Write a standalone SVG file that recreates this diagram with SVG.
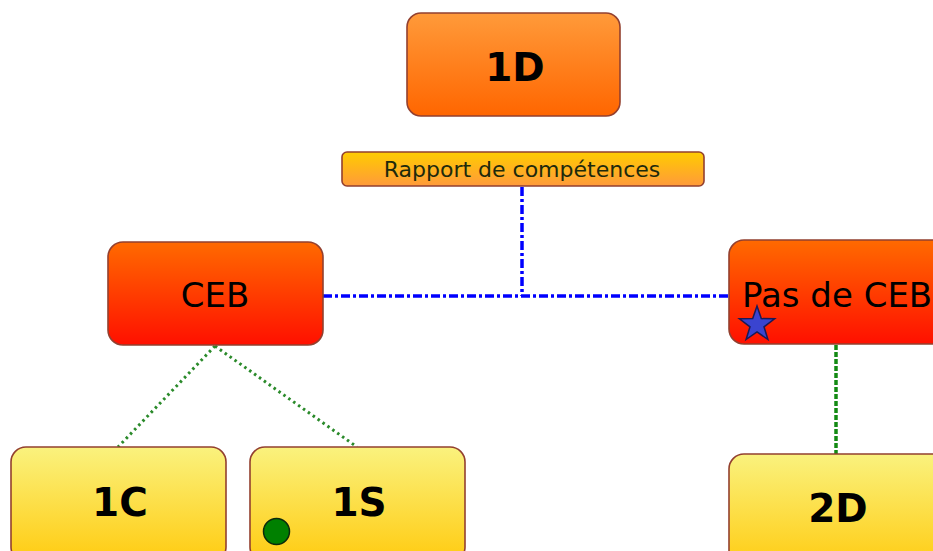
<svg xmlns="http://www.w3.org/2000/svg" width="933" height="551" viewBox="0 0 933 551">
  <defs>
    <linearGradient id="gOrange" x1="0" y1="0" x2="0" y2="1">
      <stop offset="0" stop-color="#FF9A3A"/>
      <stop offset="1" stop-color="#FF6600"/>
    </linearGradient>
    <linearGradient id="gRed" x1="0" y1="0" x2="0" y2="1">
      <stop offset="0" stop-color="#FF6A00"/>
      <stop offset="1" stop-color="#FF1000"/>
    </linearGradient>
    <linearGradient id="gYellow" x1="0" y1="0" x2="0" y2="1">
      <stop offset="0" stop-color="#FAF27E"/>
      <stop offset="1" stop-color="#FFCB10"/>
    </linearGradient>
    <linearGradient id="gLabel" x1="0" y1="0" x2="0" y2="1">
      <stop offset="0" stop-color="#FFCC00"/>
      <stop offset="1" stop-color="#FF9A3A"/>
    </linearGradient>
  </defs>
  <style>
    .box { stroke: #93402F; stroke-width: 1.6; }
    .big { font-family: "DejaVu Sans", Verdana, sans-serif; font-weight: bold; font-size: 39px; fill: #000; text-anchor: middle; }
    .mid { font-family: "DejaVu Sans", Tahoma, sans-serif; font-size: 34px; fill: #000; }
    .lbl { font-family: "DejaVu Sans", Tahoma, sans-serif; font-size: 22px; fill: #1E2A0C; text-anchor: middle; }
    .blue { fill: none; stroke: #0000FF; stroke-width: 3.5; stroke-dasharray: 9 3 3 3; }
    .dots { fill: none; stroke: #2A8A2A; stroke-width: 3; stroke-dasharray: 2.5 3.5; }
    .dash { fill: none; stroke: #138A13; stroke-width: 3.5; stroke-dasharray: 5 2; }
  </style>

  <!-- connectors -->
  <g id="connectors">
    <polyline class="blue" points="522,187 522,296"/>
    <polyline class="blue" points="323,296 729,296"/>
    <line class="dots" x1="215" y1="346" x2="118" y2="447"/>
    <line class="dots" x1="215" y1="346" x2="357" y2="447"/>
    <line class="dash" x1="836" y1="345" x2="836" y2="454"/>
  </g>

  <g id="node-1D">
    <rect class="box" x="407" y="13" width="213" height="103" rx="14" fill="url(#gOrange)"/>
    <text class="big" x="515" y="81">1D</text>
  </g>

  <g id="label-rapport">
    <rect class="box" x="342" y="152" width="362" height="34" rx="5" fill="url(#gLabel)"/>
    <text class="lbl" x="522" y="177">Rapport de compétences</text>
  </g>

  <g id="node-CEB">
    <rect class="box" x="108" y="242" width="215" height="103" rx="15" fill="url(#gRed)"/>
    <text class="mid" x="215" y="307" text-anchor="middle">CEB</text>
  </g>

  <g id="node-pas-de-CEB">
    <rect class="box" x="729" y="240" width="230" height="104" rx="15" fill="url(#gRed)"/>
    <text class="mid" x="742" y="307">Pas de CEB</text>
    <polygon points="757,306 761.3,318.6 774.6,318.8 764,326.8 767.9,339.5 757,331.9 746.1,339.5 750,326.8 739.4,318.8 752.7,318.6" fill="#3A44D0" stroke="#1A1A55" stroke-width="1.5"/>
  </g>

  <g id="node-1C">
    <rect class="box" x="11" y="447" width="215" height="115" rx="15" fill="url(#gYellow)"/>
    <text class="big" x="120" y="516">1C</text>
  </g>

  <g id="node-1S">
    <rect class="box" x="250" y="447" width="215" height="115" rx="15" fill="url(#gYellow)"/>
    <text class="big" x="359" y="516">1S</text>
    <circle cx="276.5" cy="531.5" r="13" fill="#008000" stroke="#0B2A0B" stroke-width="1.5"/>
  </g>

  <g id="node-2D">
    <rect class="box" x="729" y="454" width="230" height="115" rx="15" fill="url(#gYellow)"/>
    <text class="big" x="838" y="522">2D</text>
  </g>
</svg>
